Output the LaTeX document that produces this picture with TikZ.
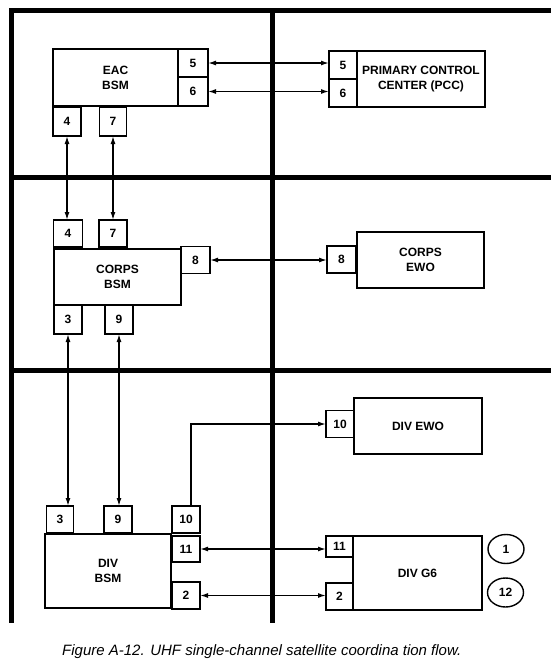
\documentclass[tikz,border=0pt]{standalone}
\usepackage{fontspec}
\setmainfont{Liberation Sans}
\usetikzlibrary{arrows.meta,shapes.geometric}
\begin{document}
\begin{tikzpicture}[x=1pt,y=-1pt,
  gridline/.style={line width=5pt,line cap=rect},
  box/.style={draw,line width=1.5pt,inner sep=0pt,outer sep=0pt,align=center,
    font=\bfseries\fontsize{12}{15}\selectfont},
  conn/.style={line width=1.4pt,{Latex[length=8pt,width=5pt]}-{Latex[length=8pt,width=5pt]}},
  conna/.style={line width=1.4pt,-{Latex[length=8pt,width=5pt]}},
  tag/.style={draw,line width=1.4pt,ellipse,inner sep=0pt,minimum width=36pt,minimum height=29pt,
    font=\bfseries\fontsize{12}{15}\selectfont},
  caption/.style={font=\itshape\fontsize{15}{18}\selectfont,inner sep=0pt}
]
\useasboundingbox (0,0) rectangle (550,672);
% grid
\draw[gridline] (11,10) -- (548,10);
\draw[gridline] (11,177) -- (548,177);
\draw[gridline] (11,370) -- (548,370);
\draw[gridline] (11,10) -- (11,620);
\draw[gridline] (272,10) -- (272,620);

% EAC BSM
\node[box,minimum width=125pt,minimum height=57pt] (eac) at (115.5,77.5) {EAC\\BSM};
\node[box,minimum width=30pt,minimum height=28pt] (e5) at (193,63) {5};
\node[box,minimum width=30pt,minimum height=29pt] (e6) at (193,91.5) {6};
\node[box,minimum width=28pt,minimum height=29pt] (e4) at (67,121.5) {4};
\node[box,minimum width=27pt,minimum height=29pt] (e7) at (113,121.5) {7};

% PCC
\node[box,minimum width=128pt,minimum height=56pt] (pcc) at (421,79) {PRIMARY CONTROL\\CENTER (PCC)};
\node[box,minimum width=28pt,minimum height=28pt] (p5) at (343,65) {5};
\node[box,minimum width=28pt,minimum height=28pt] (p6) at (343,93) {6};

% CORPS BSM
\node[box,minimum width=127pt,minimum height=56pt] (cbsm) at (117.5,277) {CORPS\\BSM};
\node[box,minimum width=29pt,minimum height=27pt] (c4) at (68,233.5) {4};
\node[box,minimum width=28pt,minimum height=27pt] (c7) at (113,233.5) {7};
\node[box,minimum width=29pt,minimum height=27pt] (c8) at (195.5,260) {8};
\node[box,minimum width=28pt,minimum height=29pt] (c3) at (68,319.5) {3};
\node[box,minimum width=28pt,minimum height=29pt] (c9) at (119,319.5) {9};

% CORPS EWO
\node[box,minimum width=127pt,minimum height=56pt] (cewo) at (420.5,260) {CORPS\\EWO};
\node[box,minimum width=29pt,minimum height=27pt] (ce8) at (341.5,259.5) {8};

% DIV EWO
\node[box,minimum width=128pt,minimum height=56pt] (dewo) at (418,426) {DIV EWO};
\node[box,minimum width=28pt,minimum height=27pt] (de10) at (340,424) {10};

% DIV BSM
\node[box,minimum width=126pt,minimum height=74pt] (dbsm) at (108,571) {DIV\\BSM};
\node[box,minimum width=27pt,minimum height=27pt] (d3) at (60,519.5) {3};
\node[box,minimum width=28pt,minimum height=27pt] (d9) at (118,519.5) {9};
\node[box,minimum width=28pt,minimum height=27pt] (d10) at (186,519.5) {10};
\node[box,minimum width=28pt,minimum height=26pt] (d11) at (186,549) {11};
\node[box,minimum width=28pt,minimum height=27pt] (d2) at (186,595.5) {2};

% DIV G6
\node[box,minimum width=129pt,minimum height=74pt] (g6) at (417.5,573) {DIV G6};
\node[box,minimum width=27pt,minimum height=21pt] (g11) at (339.5,546.5) {11};
\node[box,minimum width=27pt,minimum height=27pt] (g2) at (339.5,596.5) {2};

% tags
\node[tag] (t1) at (506,549) {1};
\node[tag] (t12) at (505.5,592.5) {12};

% connectors
\draw[conn] (e5.east) -- (e5.east -| p5.west);
\draw[conn] (e6.east) -- (e6.east -| p6.west);
\draw[conn] (e4.south) -- (e4.south |- c4.north);
\draw[conn] (e7.south) -- (e7.south |- c7.north);
\draw[conn] (c8.east) -- (c8.east -| ce8.west);
\draw[conn] (c3.south) -- (c3.south |- d3.north);
\draw[conn] (c9.south) -- (c9.south |- d9.north);
\coordinate (bend) at ([xshift=5pt]d10.north |- de10.west);
\draw[conna] ([xshift=5pt]d10.north) -- (bend) -- (de10.west);
\draw[conn] (d11.east) -- (d11.east -| g11.west);
\draw[conn] (d2.east) -- (d2.east -| g2.west);

% caption
\node[caption,anchor=west] (cap) at (62,652) {Figure A-12. UHF single-channel satellite coordina tion flow.};
\end{tikzpicture}
\end{document}
